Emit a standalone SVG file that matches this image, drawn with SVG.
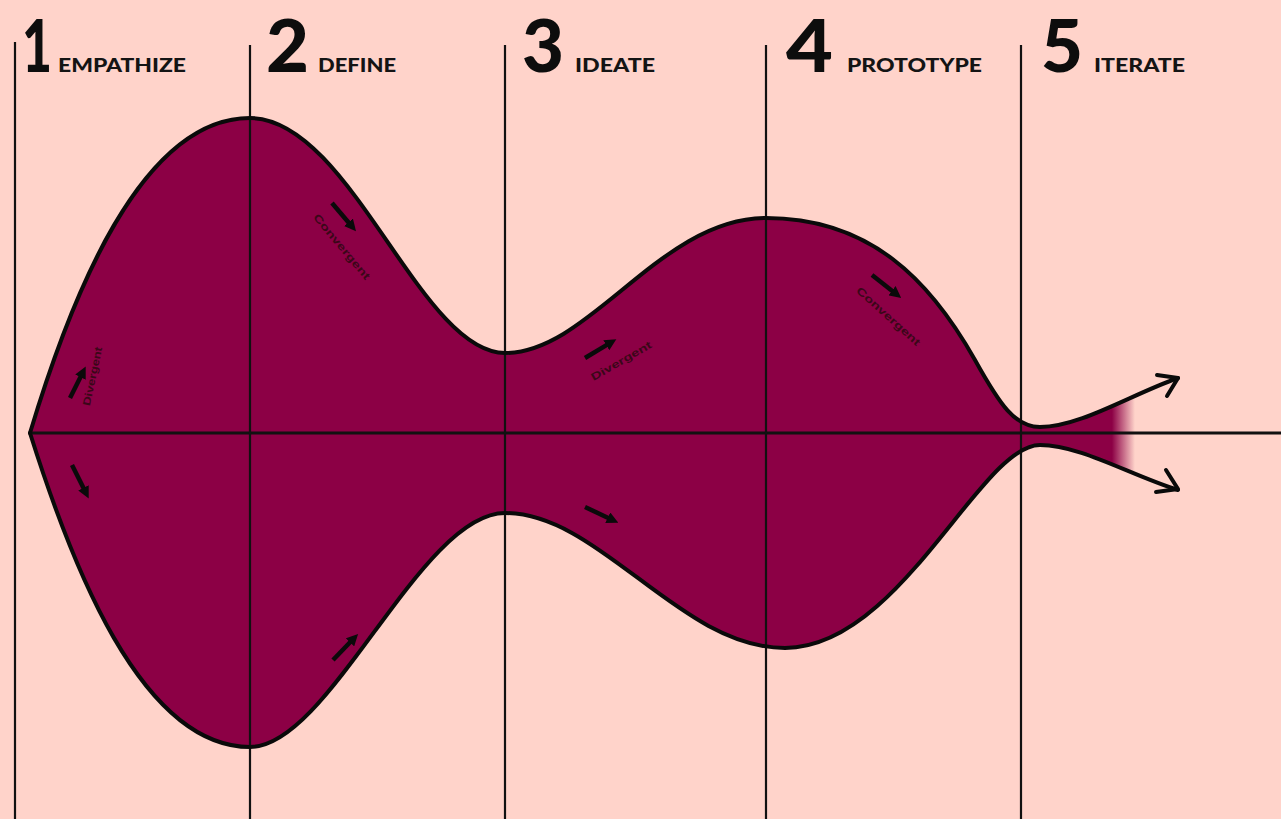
<svg xmlns="http://www.w3.org/2000/svg" width="1281" height="819" viewBox="0 0 1281 819">
<style>
.vline{stroke:#111;stroke-width:2.2;fill:none}
.outline{stroke:#0a0a0a;stroke-width:4;fill:none;stroke-linecap:round;stroke-linejoin:round}
.digit{font-family:Lato,"Liberation Sans",sans-serif;font-weight:900;font-size:72px;fill:#0d0d0d}
.phase{font-family:Lato,"Liberation Sans",sans-serif;font-weight:900;font-size:19px;fill:#141414}
.small{font-family:"Liberation Sans",Arial,sans-serif;font-weight:bold;font-size:10.5px;fill:#3a0718}
.sarrow{stroke:#0a0a0a;stroke-width:4.5;fill:none;marker-end:url(#head)}
</style>
<defs>
<linearGradient id="fade" gradientUnits="userSpaceOnUse" x1="0" y1="0" x2="1281" y2="0">
<stop offset="0" stop-color="#8C0045"/>
<stop offset="0.868" stop-color="#8C0045"/>
<stop offset="0.886" stop-color="#8C0045" stop-opacity="0"/>
<stop offset="1" stop-color="#8C0045" stop-opacity="0"/>
</linearGradient>
<marker id="head" viewBox="0 0 10 10" refX="1" refY="5" markerWidth="2.6" markerHeight="2.6" orient="auto" markerUnits="strokeWidth">
<path d="M0,0 L10,5 L0,10 Z" fill="#0a0a0a"/>
</marker>
</defs>
<rect width="1281" height="819" fill="#FFD3CA"/>

<g id="funnel-shape">
<path fill="url(#fade)" d="M30,433 C70,300 140,118 250,118 C350,118 420,353 505,353 C590,353 660,218 766,218 C870,218 930,280 975,360 C1000,405 1015,427 1040,427 C1080,427 1130,395 1178,378 L1178,490 C1130,475 1080,445 1040,445 C980,445 900,648 785,648 C680,648 600,513 505,513 C420,513 330,747 250,747 C140,747 70,560 30,433 Z"/>
</g>

<g id="axis">
<line x1="30" y1="433" x2="1281" y2="433" stroke="#111" stroke-width="3"/>
</g>

<g id="phase-lines">
<line class="vline" x1="15" y1="42" x2="15" y2="819"/>
<line class="vline" x1="250" y1="45" x2="250" y2="819"/>
<line class="vline" x1="505" y1="45" x2="505" y2="819"/>
<line class="vline" x1="766" y1="45" x2="766" y2="819"/>
<line class="vline" x1="1021" y1="45" x2="1021" y2="819"/>
</g>

<g id="outlines">
<path class="outline" d="M30,433 C70,300 140,118 250,118 C350,118 420,353 505,353 C590,353 660,218 766,218 C870,218 930,280 975,360 C1000,405 1015,427 1040,427 C1080,427 1130,395 1178,378"/>
<path class="outline" d="M30,433 C70,560 140,747 250,747 C330,747 420,513 505,513 C600,513 680,648 785,648 C900,648 980,445 1040,445 C1080,445 1130,475 1178,490"/>
</g>

<g id="phase-1">
<text class="digit" x="22" y="72" textLength="30" lengthAdjust="spacingAndGlyphs">1</text>
<text class="phase" x="58" y="72" textLength="128" lengthAdjust="spacingAndGlyphs">EMPATHIZE</text>
</g>
<g id="phase-2">
<text class="digit" x="266" y="72" textLength="43" lengthAdjust="spacingAndGlyphs">2</text>
<text class="phase" x="318" y="72" textLength="78" lengthAdjust="spacingAndGlyphs">DEFINE</text>
</g>
<g id="phase-3">
<text class="digit" x="522" y="72" textLength="42" lengthAdjust="spacingAndGlyphs">3</text>
<text class="phase" x="575" y="72" textLength="80" lengthAdjust="spacingAndGlyphs">IDEATE</text>
</g>
<g id="phase-4">
<text class="digit" x="786" y="72" textLength="47" lengthAdjust="spacingAndGlyphs">4</text>
<text class="phase" x="847" y="72" textLength="135" lengthAdjust="spacingAndGlyphs">PROTOTYPE</text>
</g>
<g id="phase-5">
<text class="digit" x="1041" y="72" textLength="42" lengthAdjust="spacingAndGlyphs">5</text>
<text class="phase" x="1094" y="72" textLength="91" lengthAdjust="spacingAndGlyphs">ITERATE</text>
</g>

<g id="labels">
<text class="small" text-anchor="middle" transform="translate(96,377) rotate(-78)" textLength="60" lengthAdjust="spacingAndGlyphs">Divergent</text>
<text class="small" text-anchor="middle" transform="translate(339,249) rotate(50)" textLength="82" lengthAdjust="spacingAndGlyphs">Convergent</text>
<text class="small" text-anchor="middle" transform="translate(623,364) rotate(-30)" textLength="68" lengthAdjust="spacingAndGlyphs">Divergent</text>
<text class="small" text-anchor="middle" transform="translate(886,319) rotate(42)" textLength="82" lengthAdjust="spacingAndGlyphs">Convergent</text>
</g>

<g id="connectors">
<line class="sarrow" x1="70" y1="398" x2="81" y2="376"/>
<line class="sarrow" x1="72" y1="465" x2="84" y2="489"/>
<line class="sarrow" x1="332" y1="203" x2="349.2" y2="223.2"/>
<line class="sarrow" x1="333" y1="660" x2="350.8" y2="641.5"/>
<line class="sarrow" x1="585" y1="358" x2="607.3" y2="344.6"/>
<line class="sarrow" x1="585" y1="507" x2="608.8" y2="518.2"/>
<line class="sarrow" x1="872" y1="275" x2="892.9" y2="291.4"/>
<polyline class="outline" points="1157,375 1178,378 1167,396"/>
<polyline class="outline" points="1166,470 1178,489 1156,492"/>
</g>
</svg>
